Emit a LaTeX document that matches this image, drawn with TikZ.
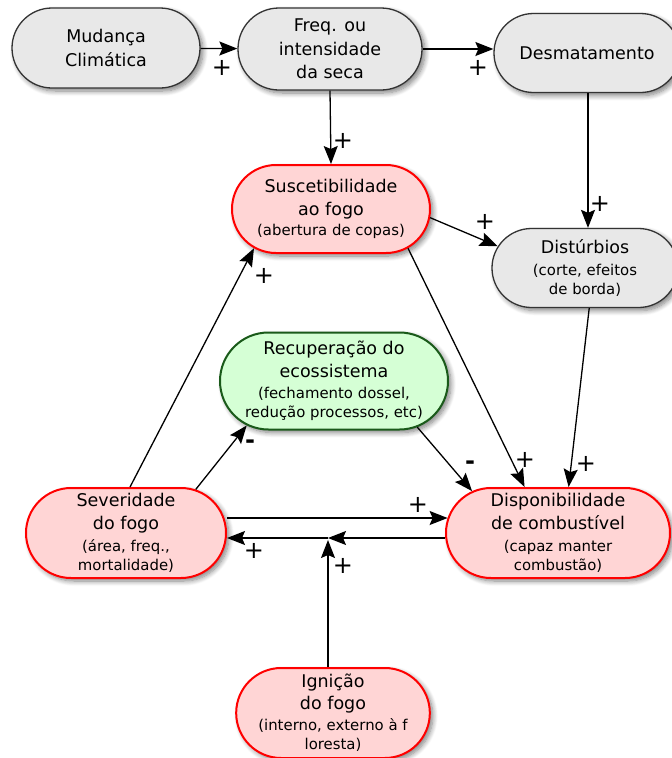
\documentclass[tikz,border=0pt]{standalone}
\usepackage{fontspec}
\setmainfont{DejaVu Sans}
\usetikzlibrary{shapes.misc,arrows.meta,shadows.blur}
\definecolor{gfill}{HTML}{E8E8E8}
\definecolor{gline}{HTML}{333333}
\definecolor{rfill}{HTML}{FFD5D5}
\definecolor{rline}{HTML}{FF0000}
\definecolor{vfill}{HTML}{D5FFD5}
\definecolor{vline}{HTML}{1A5A1A}
\newcommand\sm[1]{{\fontsize{14.9}{19}\selectfont #1}}
\begin{document}
\begin{tikzpicture}[x=1pt,y=-1pt,
  box/.style={rounded rectangle, align=center, inner sep=0pt,
    font=\fontsize{17.5}{19}\selectfont,
    blur shadow={shadow xshift=3pt,shadow yshift=-3pt,shadow blur radius=5pt,shadow blur steps=8,shadow opacity=50}},
  gbox/.style={box, draw=gline, fill=gfill, line width=1.3pt},
  rbox/.style={box, draw=rline, fill=rfill, line width=2pt},
  vbox/.style={box, draw=vline, fill=vfill, line width=2pt},
  arr/.style={-{Stealth[length=18pt,width=14pt,inset=3pt]}, line width=1.3pt},
  sign/.style={font=\fontsize{24}{24}\selectfont, inner sep=0pt},
  minus/.style={font=\fontsize{24}{24}\selectfont\bfseries, inner sep=0pt}
]
\useasboundingbox (0,0) rectangle (672,758);

\node[gbox, minimum width=188pt, minimum height=80pt] (mud) at (106,48) {Mudança\\[4.5pt]Climática};
\node[gbox, minimum width=184pt, minimum height=82pt] (freq) at (330,49) {Freq. ou\\[4.5pt]intensidade\\[4.5pt]da seca};
\node[gbox, minimum width=186pt, minimum height=79pt] (des) at (587,53) {Desmatamento};
\node[rbox, minimum width=198pt, minimum height=88pt] (sus) at (331,209) {Suscetibilidade\\[4pt]ao fogo\\[1.5pt]\sm{(abertura de copas)}};
\node[gbox, minimum width=186pt, minimum height=79pt] (dist) at (585,268) {Distúrbios\\[3pt]\sm{(corte, efeitos}\\\sm{de borda)}};
\node[vbox, minimum width=228pt, minimum height=97pt] (rec) at (334,381) {Recuperação do\\[4pt]ecossistema\\[2pt]\sm{(fechamento dossel,}\\\sm{redução processos, etc)}};
\node[rbox, minimum width=200pt, minimum height=90pt] (sev) at (126,533) {Severidade\\[4pt]do fogo\\[2.5pt]\sm{(área, freq.,}\\\sm{mortalidade)}};
\node[rbox, minimum width=224pt, minimum height=90pt] (disp) at (558,533) {Disponibilidade\\[4pt]de combustível\\[2.5pt]\sm{(capaz manter}\\\sm{combustão)}};
\node[rbox, minimum width=193pt, minimum height=90pt] (ign) at (333,713) {Ignição\\[3pt]do fogo\\[2pt]\sm{(interno, externo à f}\\\sm{loresta)}};

\coordinate (j) at (328,538);

\draw[arr] (mud) -- (freq);
\draw[arr] (freq.east) -- (freq.east -| des.west);
\draw[arr] (freq.south) -- (sus.north);
\draw[arr] ([xshift=1pt]des.south) -- ([xshift=3pt]dist.north);
\draw[arr] (sus.-5) -- (dist.166);
\draw[arr] (sus.-27) -- (disp.126);
\draw[arr] (dist.-84) -- (disp.77);
\draw[arr] (sev.85) -- (sus.207);
\draw[arr] (sev.32) -- (rec.207);
\draw[arr] (rec.-29) -- (disp.154);
\draw[arr] ([yshift=15pt]sev.east) -- ([xshift=2.6pt,yshift=15pt]disp.west);
\draw[arr] ([yshift=-5pt]disp.west) -- (j);
\draw[arr] (j) -- ([yshift=-5pt]sev.east);
\draw[arr, shorten >=2pt] (ign.north -| j) -- (j);

\node[sign] (s1) at (222,68) {+};
\node[sign] (s2) at (478,68) {+};
\node[sign] (s3) at (343,141) {+};
\node[sign] (s4) at (600,204) {+};
\node[sign] (s5) at (485,222) {+};
\node[sign] (s6) at (264,276) {+};
\node[sign] (s7) at (525,460) {+};
\node[sign] (s8) at (586,464) {+};
\node[minus] (s9) at (250,444) {-};
\node[minus] (s10) at (470,465) {-};
\node[sign] (s11) at (418,505) {+};
\node[sign] (s12) at (254,551) {+};
\node[sign] (s13) at (343,566) {+};
\end{tikzpicture}
\end{document}
